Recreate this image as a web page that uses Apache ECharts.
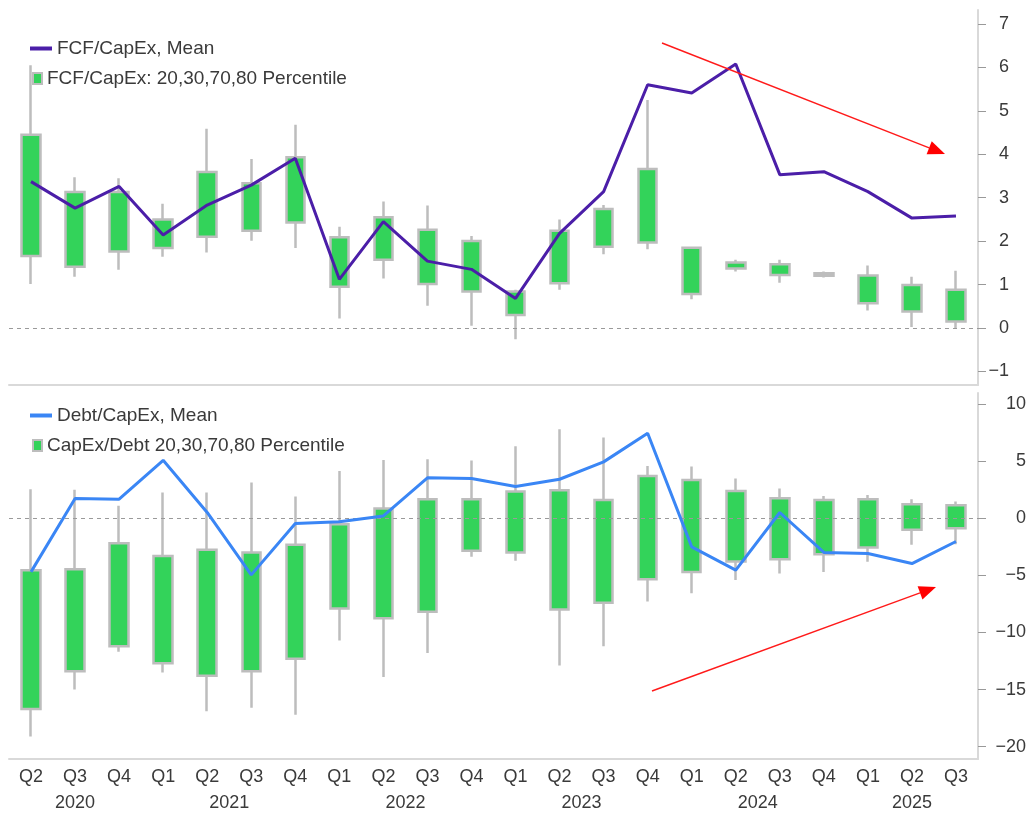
<!DOCTYPE html>
<html>
<head>
<meta charset="utf-8">
<script src="https://cdn.jsdelivr.net/npm/echarts@6/dist/echarts.min.js"></script>
<style>
  html, body { margin: 0; padding: 0; background: #fff; }
  #main { width: 1029px; height: 813px; }
</style>
</head>
<body>
<div id="main"></div>
<script>
var myChart = echarts.init(document.getElementById('main'));

// quarters, Q2 2020 .. Q3 2025
var quarters = ['Q2', 'Q3', 'Q4', 'Q1', 'Q2', 'Q3', 'Q4', 'Q1', 'Q2', 'Q3', 'Q4',
                'Q1', 'Q2', 'Q3', 'Q4', 'Q1', 'Q2', 'Q3', 'Q4', 'Q1', 'Q2', 'Q3'];
var years = ['2020', '2021', '2022', '2023', '2024', '2025'];
var yearPos = [1, 4.5, 8.5, 12.5, 16.5, 20];   // category index under which each year sits

// FCF/CapEx
var fcfMean = [3.37, 2.76, 3.26, 2.14, 2.83, 3.29, 3.91, 1.12, 2.45, 1.54, 1.35,
               0.68, 2.18, 3.14, 5.60, 5.41, 6.08, 3.53, 3.60, 3.14, 2.53, 2.58];
var fcfP20 = [1.01, 1.18, 1.34, 1.64, 1.74, 2.01, 1.84, 0.22, 1.14, 0.51, 0.05,
              -0.26, 0.88, 1.70, 1.81, 0.66, 1.30, 1.04, 1.16, 0.40, 0.02, 0.00];
var fcfP30 = [1.66, 1.41, 1.76, 1.84, 2.10, 2.24, 2.43, 0.95, 1.57, 1.01, 0.84,
              0.30, 1.03, 1.87, 1.97, 0.78, 1.37, 1.22, 1.20, 0.57, 0.38, 0.15];
var fcfP70 = [4.45, 3.13, 3.13, 2.50, 3.59, 3.33, 3.93, 2.09, 2.55, 2.26, 2.00,
              0.84, 2.24, 2.74, 3.66, 1.85, 1.51, 1.47, 1.26, 1.21, 0.99, 0.88];
var fcfP80 = [6.05, 3.47, 3.45, 2.86, 4.59, 3.89, 4.68, 2.33, 2.91, 2.82, 2.12,
              0.88, 2.50, 2.83, 5.25, 1.86, 1.57, 1.57, 1.30, 1.44, 1.18, 1.32];

// Debt/CapEx
var debtMean = [-4.70, 1.72, 1.66, 5.07, 0.50, -4.96, -0.47, -0.32, 0.20, 3.53, 3.47,
                2.77, 3.41, 4.93, 7.44, -2.51, -4.55, 0.50, -3.00, -3.09, -3.97, -2.04];
var debtP20 = [-19.1, -15.0, -11.7, -13.5, -16.9, -16.6, -17.2, -10.7, -13.9, -11.8, -3.38,
               -3.73, -12.9, -11.2, -7.30, -6.56, -5.40, -4.84, -4.70, -3.82, -2.33, -2.28];
var debtP30 = [-16.7, -13.4, -11.2, -12.7, -13.8, -13.4, -12.3, -7.90, -8.75, -8.20, -2.86,
               -3.00, -8.00, -7.40, -5.34, -4.70, -3.79, -3.59, -3.15, -2.57, -1.02, -0.88];
var debtP70 = [-4.55, -4.46, -2.19, -3.30, -2.77, -3.00, -2.33, -0.52, 0.85, 1.66, 1.66,
               2.33, 2.45, 1.60, 3.70, 3.35, 2.39, 1.75, 1.60, 1.66, 1.22, 1.14];
var debtP80 = [2.54, 2.48, 1.08, 2.25, 2.25, 3.12, 1.90, 4.14, 5.10, 5.16, 5.05,
               6.30, 7.79, 7.06, 4.58, 4.52, 3.47, 2.60, 1.95, 2.04, 1.66, 1.46];

var topTicks = [-1, 0, 1, 2, 3, 4, 5, 6, 7];
var bottomTicks = [-20, -15, -10, -5, 0, 5, 10];

function toCandles(p30, p70, p20, p80) {
    var out = [];
    for (var i = 0; i < p30.length; i++) {
        out.push([p30[i], p70[i], p20[i], p80[i]]);
    }
    return out;
}

function minus(v) {
    return String(v).replace('-', '\u2212');
}

// red trend arrow (annotation only)
function arrow(x1, y1, x2, y2) {
    var dx = x2 - x1, dy = y2 - y1;
    var len = Math.sqrt(dx * dx + dy * dy);
    var ux = dx / len, uy = dy / len;
    var hl = 17, hw = 7;
    var bx = x2 - ux * hl, by = y2 - uy * hl;
    return [
        { type: 'line', shape: { x1: x1, y1: y1, x2: bx, y2: by },
          style: { stroke: '#ff1a1a', lineWidth: 1.4 }, z: 100 },
        { type: 'polygon', shape: { points: [[x2, y2], [bx - uy * hw, by + ux * hw], [bx + uy * hw, by - ux * hw]] },
          style: { fill: '#ff0000' }, z: 100 }
    ];
}

var font = 'Liberation Sans';
var textColor = '#3a3a3a';
var axisGray = '#d9d9d9';
var green = '#33d35a';
var boxGray = '#bdbdbd';

var zeroLine = {
    silent: true,
    symbol: 'none',
    label: { show: false },
    lineStyle: { color: '#9a9a9a', type: [4, 4], width: 1 },
    data: [{ yAxis: 0 }]
};

function legend(name, top, left, w, h) {
    return {
        data: [{ name: name, icon: 'rect' }],
        top: top, left: left,
        itemWidth: w, itemHeight: h,
        selectedMode: false,
        textStyle: { fontSize: 19, color: textColor, fontFamily: font }
    };
}

option = {
    animation: false,
    backgroundColor: '#fff',
    textStyle: { fontFamily: font },
    grid: [
        { left: 9, right: 51, top: 10, height: 375 },
        { left: 9, right: 51, top: 393, height: 366 }
    ],
    legend: [
        legend('FCF/CapEx, Mean', 34, 25, 22, 4),
        legend('FCF/CapEx: 20,30,70,80 Percentile', 64, 27, 9, 11),
        legend('Debt/CapEx, Mean', 401, 25, 22, 4),
        legend('CapEx/Debt 20,30,70,80 Percentile', 431, 27, 9, 11)
    ],
    xAxis: [
        {
            type: 'category', gridIndex: 0, data: quarters,
            axisLine: { onZero: false, lineStyle: { color: axisGray, width: 2 } },
            axisTick: { show: false },
            axisLabel: { show: false }
        },
        {
            type: 'category', gridIndex: 1, data: quarters,
            axisLine: { onZero: false, lineStyle: { color: axisGray, width: 2 } },
            axisTick: { show: false },
            axisLabel: { fontSize: 18, color: textColor, margin: 9, interval: 0 }
        },
        {
            // year row under the quarters
            type: 'value', gridIndex: 1, min: -0.5, max: 21.5, position: 'bottom',
            axisLine: { show: false, onZero: false },
            axisTick: { show: false },
            splitLine: { show: false },
            axisLabel: {
                fontSize: 18, color: textColor, margin: 35,
                customValues: yearPos,
                formatter: function (v) { return years[yearPos.indexOf(v)]; }
            }
        }
    ],
    yAxis: [
        {
            type: 'value', gridIndex: 0, position: 'right',
            min: -1.313, max: 7.322,
            axisLine: { show: true, onZero: false, lineStyle: { color: axisGray, width: 2 } },
            axisTick: { show: true, length: 8, customValues: topTicks, lineStyle: { color: '#999' } },
            splitLine: { show: false },
            axisLabel: {
                fontSize: 18, color: textColor, align: 'right', margin: 31,
                customValues: topTicks, formatter: minus
            }
        },
        {
            type: 'value', gridIndex: 1, position: 'right',
            min: -21.08, max: 10.96,
            axisLine: { show: true, onZero: false, lineStyle: { color: axisGray, width: 2 } },
            axisTick: { show: true, length: 8, customValues: bottomTicks, lineStyle: { color: '#999' } },
            splitLine: { show: false },
            axisLabel: {
                fontSize: 18, color: textColor, align: 'right', margin: 48,
                customValues: bottomTicks, formatter: minus
            }
        }
    ],
    series: [
        {
            name: 'FCF/CapEx: 20,30,70,80 Percentile',
            type: 'candlestick', xAxisIndex: 0, yAxisIndex: 0,
            barWidth: 19,
            itemStyle: { color: green, color0: green, borderColor: boxGray, borderColor0: boxGray, borderWidth: 2.5 },
            data: toCandles(fcfP30, fcfP70, fcfP20, fcfP80),
            markLine: zeroLine,
            z: 2
        },
        {
            name: 'FCF/CapEx, Mean',
            type: 'line', xAxisIndex: 0, yAxisIndex: 0,
            symbol: 'none',
            color: '#4b1ea8',
            lineStyle: { width: 3, color: '#4b1ea8' },
            data: fcfMean,
            z: 5
        },
        {
            name: 'CapEx/Debt 20,30,70,80 Percentile',
            type: 'candlestick', xAxisIndex: 1, yAxisIndex: 1,
            barWidth: 19,
            itemStyle: { color: green, color0: green, borderColor: boxGray, borderColor0: boxGray, borderWidth: 2.5 },
            data: toCandles(debtP30, debtP70, debtP20, debtP80),
            markLine: zeroLine,
            z: 2
        },
        {
            name: 'Debt/CapEx, Mean',
            type: 'line', xAxisIndex: 1, yAxisIndex: 1,
            symbol: 'none',
            color: '#3a86f5',
            lineStyle: { width: 3, color: '#3a86f5' },
            data: debtMean,
            z: 5
        }
    ],
    graphic: arrow(662, 43, 945, 154).concat(arrow(652, 691, 936, 587))
};

myChart.setOption(option);
</script>
</body>
</html>
